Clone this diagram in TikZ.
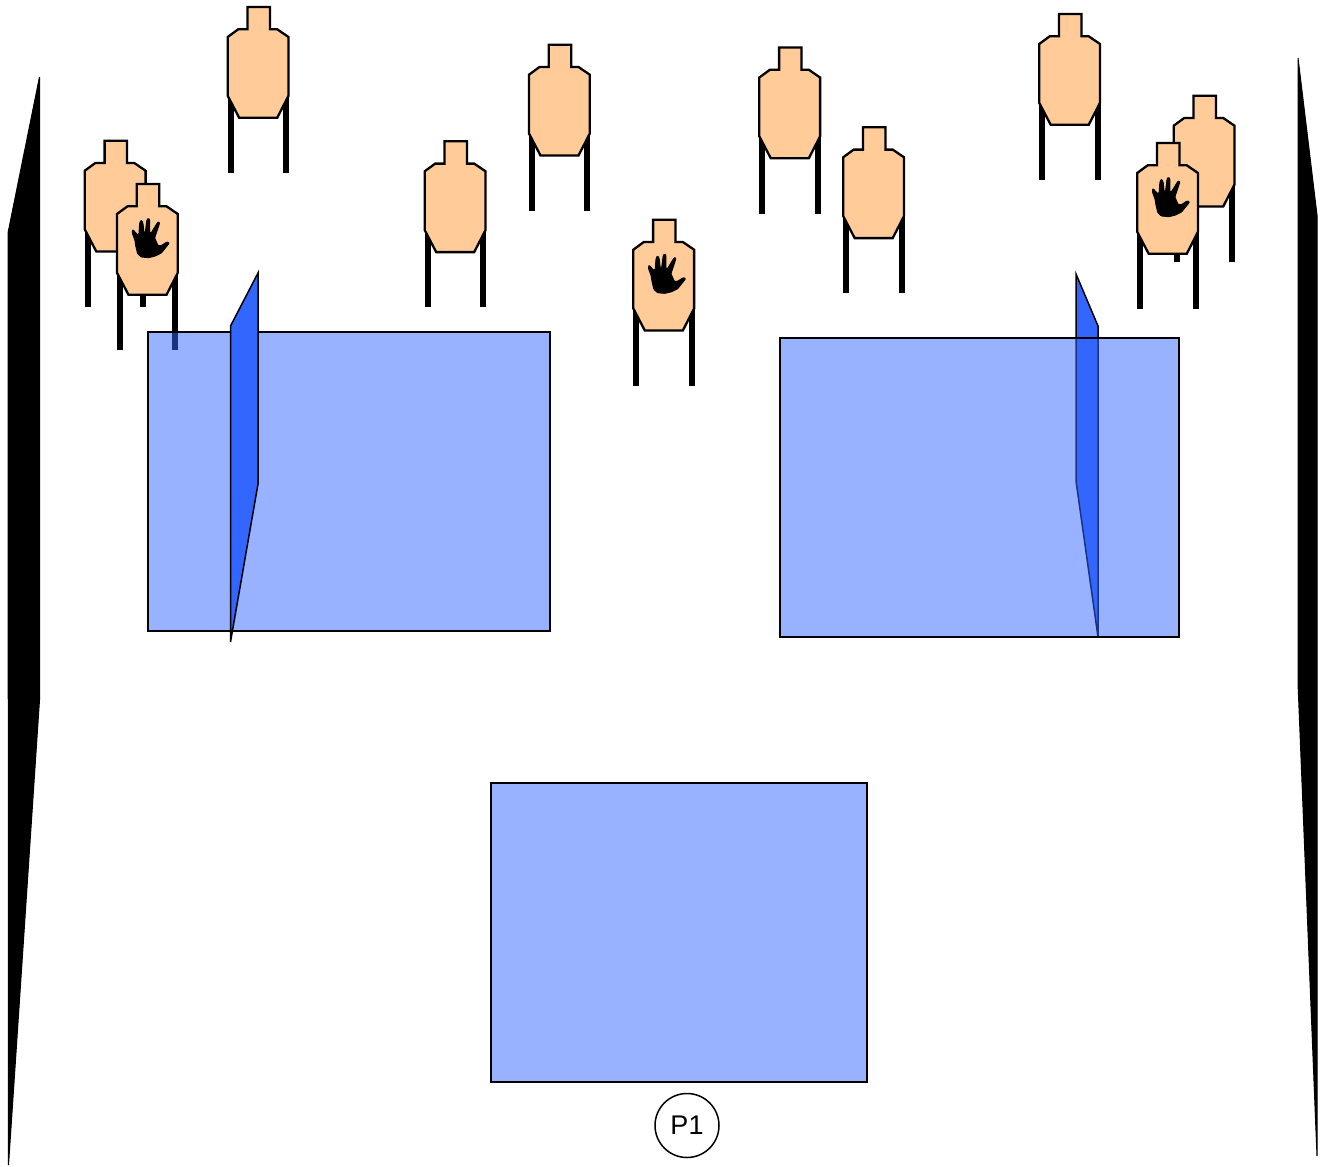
\documentclass[tikz,border=0pt]{standalone}
\usepackage{fontspec}
\setmainfont{Liberation Sans}
\definecolor{skin}{HTML}{FFCC99}
\definecolor{cover}{HTML}{3366FF}
\tikzset{
  sidewall/.style={draw=black,fill=black,line width=1pt,line join=miter},
  leg/.style={line width=6pt,black},
  tbody/.style={draw=black,fill=skin,line width=2.3pt,line join=miter},
  hand/.style={draw=black,fill=black,line width=1pt,line join=round,rounded corners=0.8pt},
  mat/.style={draw=black,fill=cover,fill opacity=0.5,line width=1.8pt},
  wall/.style={draw=black,fill=cover,line width=1.5pt,line join=miter},
  pcircle/.style={draw=black,circle,line width=1.5pt,minimum size=64pt,inner sep=0pt,font=\fontsize{27}{27}\selectfont}
}
\newcommand{\tgt}[2]{%
  \begin{scope}[shift={(#1,#2)}]
    \draw[leg] (3,85) -- (3,166);
    \draw[leg] (58.3,85) -- (58.3,166);
    \draw[tbody] (19.8,0) -- (42.2,0) -- (42.2,22.3) -- (49.5,22.3) -- (60.8,30) -- (60.8,88.8) -- (49.5,110.8) -- (11.5,110.8) -- (0,88.8) -- (0,30) -- (10.5,22.3) -- (19.8,22.3) -- cycle;
  \end{scope}}
\newcommand{\palm}[2]{%
  \begin{scope}[shift={(#1+8.3,#2+28)},x=0.3333pt,y=-0.3333pt]
    \draw[hand] (21,56) -- (23,53) -- (36,68) -- (41,66) -- (43,35) -- (46,26) -- (50,26) -- (53,35) -- (56,62) -- (60,62) -- (65,23) -- (69,19) -- (73,23) -- (73,62) -- (77,64) -- (96,33) -- (100,29) -- (103,33) -- (88,78) -- (98,101) -- (108,101) -- (125,90) -- (132,92) -- (129,97) -- (108,123) -- (90,132) -- (70,137) -- (48,135) -- (37,125) -- (31,100) -- (29,85) -- (21,63) -- cycle;
  \end{scope}}
\begin{document}
\begin{tikzpicture}[x=1pt,y=-1pt]
\useasboundingbox (0,0) rectangle (1320,1167);
\fill[white] (0,0) rectangle (1320,1167);
% side walls
\draw[sidewall] (8,233) -- (39.5,77) -- (39.5,700) -- (8.5,1165) -- cycle;
\draw[sidewall] (1298,58) -- (1317,215) -- (1317,1156) -- (1298,683) -- cycle;
% targets
\tgt{84.8}{140.7}
\tgt{117}{184} \palm{117}{184}
\tgt{227.7}{7}
\tgt{424.7}{141.3}
\tgt{529}{44.7}
\tgt{633.3}{219.7} \palm{633.3}{219.7}
\tgt{759.3}{47.5}
\tgt{843.2}{127.3}
\tgt{1039.2}{14}
\tgt{1173.7}{95.7}
\tgt{1137.2}{143} \palm{1137.2}{143}
% mats and walls
\draw[wall] (1076,274) -- (1098,326) -- (1098,637) -- (1076,481) -- cycle;
\draw[mat] (148,332) rectangle (550,631);
\draw[mat] (780,338) rectangle (1179,637);
\draw[mat] (491,783) rectangle (867,1082);
\draw[wall] (230.5,326) -- (258,273) -- (258,484) -- (230.5,642) -- cycle;
\node[pcircle] (p1) at (687,1125.5) {P1};
\end{tikzpicture}
\end{document}
